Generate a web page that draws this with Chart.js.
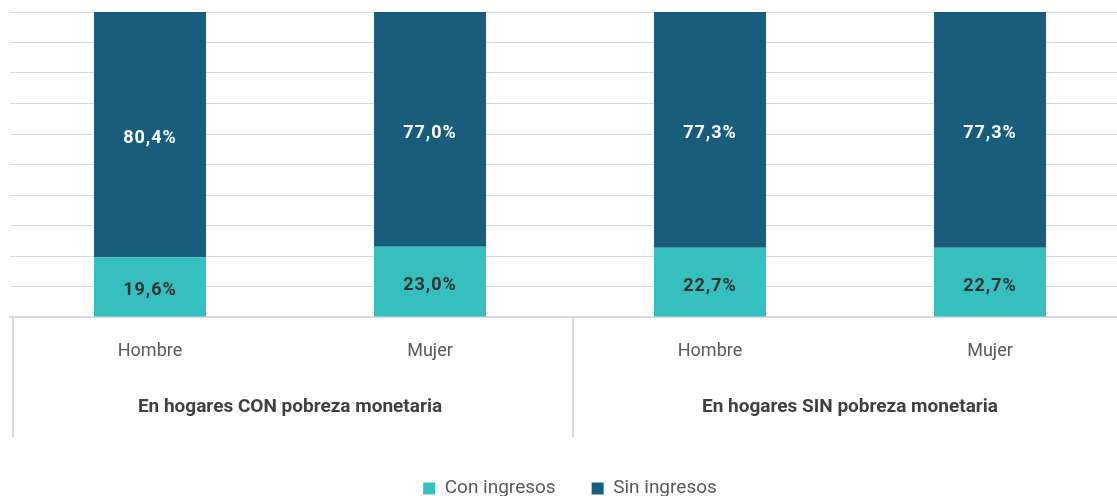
<!DOCTYPE html>
<html>
<head>
<meta charset="utf-8">
<script src="https://cdn.jsdelivr.net/npm/chart.js@4.4.1/dist/chart.umd.min.js"></script>
<style>
  html, body { margin: 0; padding: 0; background: #ffffff; overflow: hidden; }
  #wrap { position: relative; width: 1130px; height: 508px; }
</style>
</head>
<body>
<div id="wrap"><canvas id="chart"></canvas></div>
<script>
// Share of people with and without their own income, by sex and household poverty status
const categories = ['Hombre', 'Mujer', 'Hombre', 'Mujer'];
const groups = ['En hogares CON pobreza monetaria', 'En hogares SIN pobreza monetaria'];
const groupSize = 2;
const conIngresos = [19.6, 23.0, 22.7, 22.7];
const sinIngresos = [80.4, 77.0, 77.3, 77.3];
const yTicks = [0, 10, 20, 30, 40, 50, 60, 70, 80, 90, 100];

const TEAL = '#36bfbf';
const NAVY = '#185e7c';
const GRID = '#d9d9d9';
const FONT = 'Roboto, "Liberation Sans", sans-serif';

const fmt = v => v.toFixed(1).replace('.', ',') + '%';

// Values printed in the middle of each bar segment
const segmentLabels = {
  id: 'segmentLabels',
  afterDatasetsDraw(chart) {
    const ctx = chart.ctx;
    ctx.save();
    ctx.font = 'bold 18px ' + FONT;
    ctx.letterSpacing = '1px';
    ctx.textAlign = 'center';
    ctx.textBaseline = 'middle';
    chart.data.datasets.forEach((ds, di) => {
      const meta = chart.getDatasetMeta(di);
      meta.data.forEach((bar, i) => {
        const mid = (bar.y + bar.base) / 2;
        ctx.fillStyle = ds.labelColor;
        ctx.fillText(fmt(ds.data[i]), bar.x, mid + 4);
      });
    });
    ctx.restore();
  }
};

// Vertical dividers framing each household group below the axis
const groupDividers = {
  id: 'groupDividers',
  afterDraw(chart) {
    const x = chart.scales.x;
    const step = x.getPixelForValue(1) - x.getPixelForValue(0);
    const top = chart.chartArea.bottom;
    const bottom = top + 120;
    const ctx = chart.ctx;
    ctx.save();
    ctx.strokeStyle = GRID;
    ctx.lineWidth = 2;
    for (let g = 0; g <= groups.length; g++) {
      const idx = g * groupSize;
      const px = Math.round(x.getPixelForValue(0) - step / 2 + idx * step) + 3;
      ctx.beginPath();
      ctx.moveTo(px, top);
      ctx.lineTo(px, bottom);
      ctx.stroke();
    }
    ctx.restore();
  }
};

new Chart(document.getElementById('chart'), {
  type: 'bar',
  data: {
    labels: categories,
    datasets: [
      { label: 'Con ingresos', data: conIngresos, backgroundColor: TEAL, labelColor: '#333333' },
      { label: 'Sin ingresos', data: sinIngresos, backgroundColor: NAVY, labelColor: '#ffffff' }
    ]
  },
  options: {
    responsive: true,
    maintainAspectRatio: false,
    animation: false,
    layout: { padding: { left: 10, right: 0, top: 12, bottom: 0 } },
    datasets: { bar: { barPercentage: 0.4, categoryPercentage: 1.0 } },
    scales: {
      x: {
        stacked: true,
        grid: { display: false, drawTicks: false },
        border: { display: true, color: GRID, width: 2 },
        ticks: { color: '#595959', font: { family: FONT, size: 18 }, padding: 24 },
        afterFit(scale) { scale.height = 46; }
      },
      x2: {
        type: 'category',
        labels: groups,
        position: 'bottom',
        offset: true,
        grid: { display: false, drawTicks: false },
        border: { display: false },
        ticks: { color: '#404040', font: { family: FONT, size: 19, weight: 'bold' }, padding: 33 },
        afterFit(scale) { scale.height = 80; }
      },
      y: {
        stacked: true,
        min: 0,
        max: 100,
        afterBuildTicks(scale) { scale.ticks = yTicks.map(v => ({ value: v })); },
        grid: { color: GRID, drawTicks: false },
        border: { display: false },
        ticks: { display: false }
      }
    },
    plugins: {
      legend: {
        position: 'bottom',
        labels: {
          boxWidth: 12,
          boxHeight: 12,
          padding: 36,
          color: '#595959',
          font: { family: FONT, size: 19 }
        }
      },
      tooltip: { enabled: false }
    }
  },
  plugins: [segmentLabels, groupDividers]
});
</script>
</body>
</html>
